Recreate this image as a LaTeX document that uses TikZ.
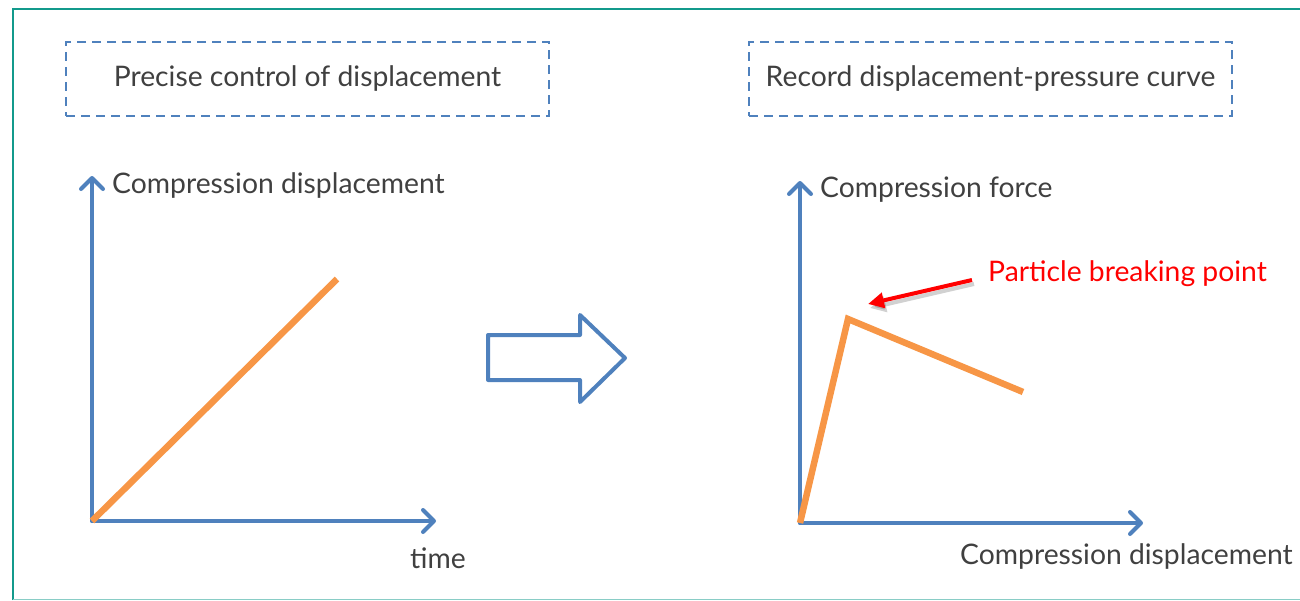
\documentclass[tikz,border=0pt]{standalone}
\usepackage{fontspec}
\setmainfont{Lato}
\usetikzlibrary{arrows.meta}
\definecolor{frame}{HTML}{139A8C}
\definecolor{axisblue}{HTML}{4F81BD}
\definecolor{curveorange}{HTML}{F79646}
\definecolor{txt}{HTML}{404040}
\definecolor{alert}{HTML}{FF0000}
\tikzset{
  x=1pt, y=-1pt,
  bigfont/.style={font=\fontsize{28.3}{32}\selectfont},
  titlebox/.style={draw=axisblue, dashed, dash pattern=on 9pt off 6pt, line width=1.6pt,
    minimum width=483pt, minimum height=74pt, text=txt, bigfont},
  axis/.style={draw=axisblue, line width=4pt, line cap=round,
    -{Straight Barb[length=11pt, width=22pt, line cap=round, line join=round]}},
  curve/.style={draw=curveorange, line width=6.5pt, line join=miter},
  lbl/.style={text=txt, bigfont, inner sep=0pt},
  redlbl/.style={text=alert, bigfont, inner sep=0pt},
}
\begin{document}
\begin{tikzpicture}
\useasboundingbox (0,0) rectangle (1300,600);
% outer frame
\draw[frame, line width=2.5pt] (13,600) -- (13,9) -- (1300,9);
\draw[frame!50, line width=1pt] (13,599) -- (1300,599);

% headings
\node[titlebox] (h1) at (307.5,79) {Precise control of displacement};
\node[titlebox] (h2) at (990.5,79) {Record displacement-pressure curve};

% left chart: displacement vs time
\coordinate (o1) at (92,521);
\coordinate (y1) at (92,176);
\coordinate (x1) at (436,521);
\draw[axis] (o1) -- (y1);
\draw[axis] (o1) -- (x1);
\coordinate (c1) at (337,279);
\draw[curve] (o1) -- (c1);
\node[lbl, anchor=west] (ly1) at (112,186) {Compression displacement};
\node[lbl, anchor=west] (lx1) at (410,558) {time};

% transition arrow
\draw[axisblue, line width=4pt, line join=round]
  (488,335) -- (580,335) -- (580,315) -- (625,358) -- (580,402) -- (580,380) -- (488,380) -- cycle;

% right chart: force vs displacement
\coordinate (o2) at (800,523);
\coordinate (y2) at (800,181);
\coordinate (x2) at (1143,523);
\draw[axis] (o2) -- (y2);
\draw[axis] (o2) -- (x2);
\coordinate (pk) at (848,319);
\coordinate (en) at (1023,392);
\draw[curve] (o2) -- (pk) -- (en);
\node[lbl, anchor=west] (ly2) at (820,190) {Compression force};
\node[lbl, anchor=west] (lx2) at (960,556) {Compression displacement};

% breaking point annotation
\node[redlbl, anchor=west] (bp) at (988,274) {Particle breaking point};
\coordinate (at) at (972,280);
\coordinate (ah) at (868,304);
\draw[black, opacity=0.18, line width=4pt, -{Triangle[length=16pt,width=15pt]}]
  ([shift={(2,4)}]at) -- ([shift={(2,4)}]ah);
\draw[alert, line width=4pt, -{Triangle[length=16pt,width=15pt]}] (at) -- (ah);
\end{tikzpicture}
\end{document}
